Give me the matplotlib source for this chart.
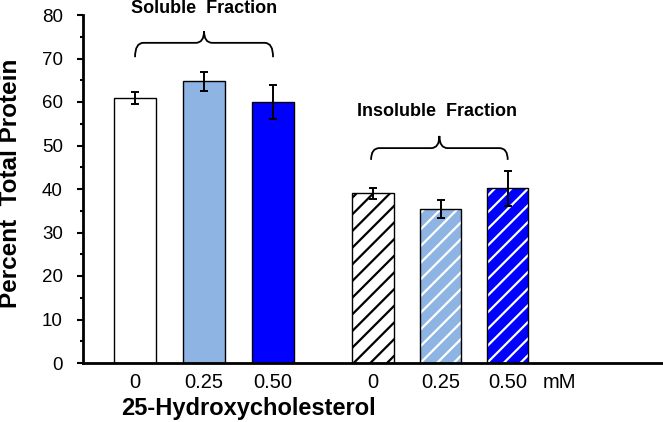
import matplotlib
matplotlib.use("Agg")
import matplotlib.pyplot as plt
from matplotlib.path import Path
from matplotlib.patches import PathPatch
import numpy as np

plt.rcParams['font.family'] = ['Liberation Sans', 'DejaVu Sans']
plt.rcParams['hatch.linewidth'] = 1.6

# Data
tick_labels = ["0", "0.25", "0.50", "0", "0.25", "0.50", "mM"]
soluble = [61.0, 64.8, 60.0]
soluble_err = [1.4, 2.2, 4.0]
insoluble = [39.0, 35.4, 40.2]
insoluble_err = [1.2, 2.0, 4.0]
colors = ["#FFFFFF", "#8EB4E3", "#0000FF"]
hatch_colors = ["#000000", "#FFFFFF", "#FFFFFF"]

pos_sol = np.array([0.0, 1.0, 2.0])
pos_ins = np.array([3.45, 4.43, 5.4])
mm_pos = 6.15
width = 0.6

fig = plt.figure(figsize=(6.63, 4.22), dpi=100)
ax = fig.add_axes([83/663, 59/422, 1 - 83/663, (363-15)/422])

# soluble bars
ax.bar(pos_sol, soluble, width=width, color=colors, edgecolor="black", linewidth=1.0, zorder=2)
ax.errorbar(pos_sol, soluble, yerr=soluble_err, fmt="none", ecolor="black",
            elinewidth=1.4, capsize=2.8, capthick=1.4, zorder=3)

# insoluble bars (hatched)
for x, v, c, hc in zip(pos_ins, insoluble, colors, hatch_colors):
    ax.bar(x, v, width=width, color=c, edgecolor=hc, hatch="//", linewidth=0, zorder=2)
    ax.bar(x, v, width=width, fill=False, edgecolor="black", linewidth=1.0, zorder=2.5)
ax.errorbar(pos_ins, insoluble, yerr=insoluble_err, fmt="none", ecolor="black",
            elinewidth=1.4, capsize=2.8, capthick=1.4, zorder=3)

ax.set_xlim(-0.754, 7.65)
ax.set_ylim(0, 80)
ax.set_yticks(np.arange(0, 81, 10))
ax.set_yticks(np.arange(0, 81, 5), minor=True)
ax.set_xticks(list(pos_sol) + list(pos_ins) + [mm_pos])
ax.set_xticklabels(tick_labels)
ax.tick_params(axis='x', length=0, pad=7.5, labelsize=14.5)
ax.tick_params(axis='y', which='major', length=4, width=1.5, direction='out', labelsize=13.5, pad=10.5)
ax.tick_params(axis='y', which='minor', length=2.2, width=1.5, direction='out')
for s in ['top', 'right']:
    ax.spines[s].set_visible(False)
for s in ['left', 'bottom']:
    ax.spines[s].set_linewidth(2)

fig.text(11/663, 1 - 183/422, "Percent  Total Protein", fontsize=17.5, fontweight='bold',
         rotation=90, ha='center', va='center')
fig.text(248/663, 1 - 408/422, "25-Hydroxycholesterol", fontsize=17, fontweight='bold',
         ha='center', va='center')


def bracket(ax, x0, x1, y_end, y_h, y_top):
    xm = (x0 + x1) / 2
    r = 0.12
    verts = [
        (x0, y_end), (x0, y_h), (x0 + r, y_h),
        (xm - r, y_h), (xm, y_h), (xm, y_top),
        (xm, y_h), (xm + r, y_h),
        (x1 - r, y_h), (x1, y_h), (x1, y_end),
    ]
    codes = [Path.MOVETO, Path.CURVE3, Path.CURVE3,
             Path.LINETO, Path.CURVE3, Path.CURVE3,
             Path.CURVE3, Path.CURVE3,
             Path.LINETO, Path.CURVE3, Path.CURVE3]
    p = PathPatch(Path(verts, codes), fill=False, edgecolor="black", linewidth=1.3,
                  clip_on=False, zorder=4)
    ax.add_patch(p)


bracket(ax, pos_sol[0], pos_sol[2], 70.3, 73.6, 76.3)
ax.text(pos_sol[1], 81.5, "Soluble  Fraction", ha='center', va='center', fontsize=13,
        fontweight='bold', clip_on=False)
bracket(ax, pos_ins[0] - 0.03, pos_ins[2], 46.7, 49.4, 52.2)
ax.text(4.38, 57.9, "Insoluble  Fraction", ha='center', va='center', fontsize=13,
        fontweight='bold')

fig.savefig("out.png", dpi=100)
